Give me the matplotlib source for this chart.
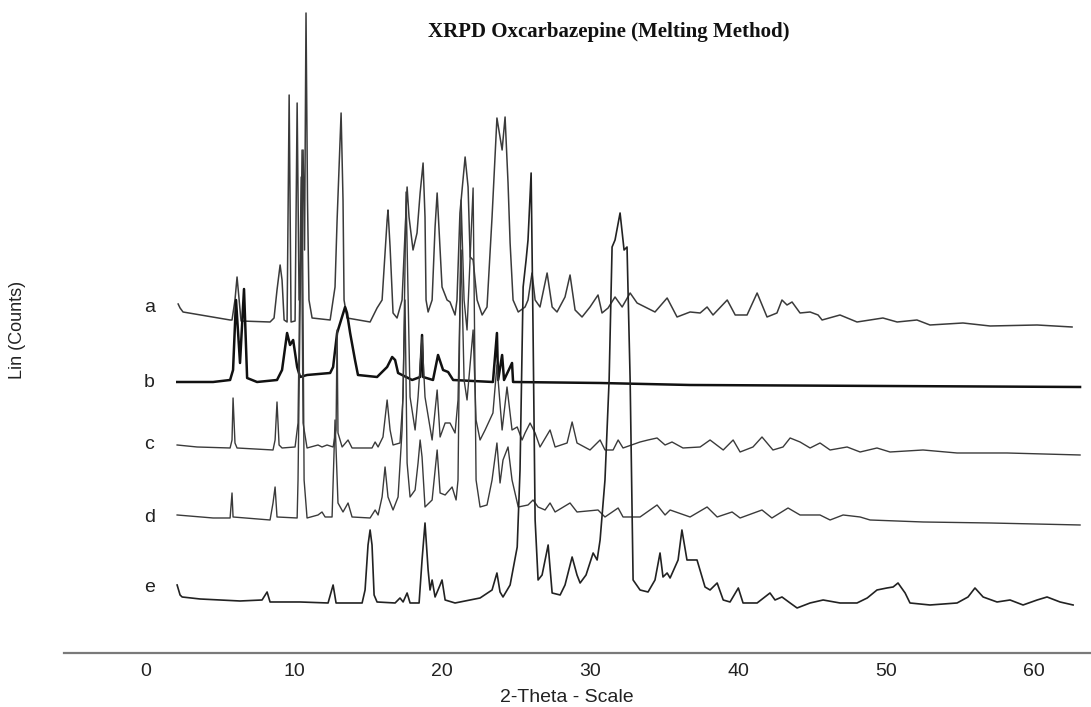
import matplotlib
matplotlib.use("Agg")
import matplotlib.pyplot as plt

# XRPD patterns (2-theta, counts), stacked as in the original figure
a_theta = [2.16, 2.29, 2.49, 5.67, 5.80, 6.0, 6.14, 6.28, 6.41, 8.37, 8.64, 8.84, 9.05, 9.18, 9.32,
           9.52, 9.66, 9.79, 10.06, 10.2, 10.33, 10.47, 10.6, 10.7, 10.8, 10.9, 11.0, 11.21, 12.43,
           12.76, 12.9, 13.17, 13.3, 13.37, 13.57, 15.13, 15.6, 15.94, 16.28, 16.34, 16.48, 16.68,
           16.95, 17.29, 17.63, 17.76, 18.03, 18.3, 18.51, 18.71, 18.84, 18.91, 19.05, 19.32, 19.52,
           19.66, 19.79, 19.99, 20.33, 20.53, 20.87, 21.0, 21.2, 21.55, 21.75, 21.89, 22.09, 22.36,
           22.7, 23.03, 23.37, 23.7, 24.05, 24.25, 24.45, 24.59, 24.79, 25.14, 25.6, 25.8, 26.07,
           26.28, 26.61, 27.09, 27.43, 27.76, 28.3, 28.64, 28.98, 29.45, 29.99, 30.53, 30.8, 31.21,
           31.68, 32.16, 32.7, 33.17, 33.71, 34.38, 35.2, 35.87, 36.75, 37.43, 37.9, 38.3, 39.26,
           39.8, 40.6, 41.28, 41.95, 42.62, 42.96, 43.3, 43.64, 44.18, 44.86, 45.4, 45.67, 46.88,
           48.03, 49.78, 50.74, 52.08, 52.96, 55.19, 57.02, 60.2, 62.56]
a_counts = [349, 345, 341, 333, 333, 353, 376, 353, 332, 331, 335, 363, 388, 373, 333,
            331, 558, 331, 332, 550, 353, 403, 503, 403, 640, 453, 353, 335, 333,
            366, 433, 540, 453, 353, 335, 331, 345, 353, 433, 443, 406, 340,
            335, 353, 466, 436, 403, 420, 460, 490, 436, 353, 341, 353, 426,
            460, 423, 366, 353, 351, 338, 353, 440, 496, 466, 396, 393, 353,
            338, 346, 436, 535, 503, 536, 470, 410, 353, 341, 346, 353, 380,
            353, 346, 380, 346, 341, 356, 378, 343, 336, 346, 358, 340, 345,
            356, 346, 360, 350, 346, 341, 355, 336, 341, 340, 346, 338, 353,
            338, 338, 360, 336, 340, 353, 348, 351, 340, 341, 338, 333, 338,
            331, 335, 331, 333, 328, 330, 327, 328, 326]

b_theta = [2.1, 4.52, 5.67, 5.87, 6.07, 6.34, 6.61, 6.82, 7.49, 8.84, 9.18, 9.52, 9.72, 9.93,
           10.2, 10.4, 10.87, 12.43, 12.63, 12.9, 13.44, 13.57, 13.78, 14.11, 14.31, 15.6, 16.28,
           16.62, 16.82, 17.02, 17.97, 18.51, 18.64, 18.71, 19.38, 19.72, 20.06, 20.4, 20.74,
           23.43, 23.7, 23.78, 24.05, 24.18, 24.72, 24.79, 30.67, 36.75, 63.1]
b_counts = [271, 271, 273, 283, 353, 290, 364, 275, 271, 273, 283, 320, 308, 313,
            286, 276, 278, 280, 286, 320, 346, 340, 320, 293, 278, 276, 286,
            296, 293, 280, 273, 276, 318, 276, 273, 298, 283, 281, 273,
            271, 320, 273, 298, 273, 290, 271, 270, 268, 266]

c_theta = [2.09, 3.44, 5.67, 5.80, 5.87, 6.0, 6.14, 8.57, 8.71, 8.84, 8.98, 9.18, 10.06, 10.26,
           10.47, 10.6, 10.87, 11.61, 11.88, 12.22, 12.63, 12.83, 12.9, 12.96, 13.24, 13.64, 13.91,
           15.26, 15.47, 15.67, 16.0, 16.28, 16.48, 16.68, 17.15, 17.36, 17.56, 17.83, 18.17,
           18.37, 18.64, 18.84, 19.32, 19.66, 19.86, 20.2, 20.53, 20.87, 21.07, 21.28, 21.48,
           21.68, 22.09, 22.29, 22.56, 22.9, 23.43, 23.7, 24.05, 24.38, 24.72, 25.07, 25.4, 25.6,
           25.94, 26.28, 26.61, 27.29, 27.63, 28.44, 28.78, 29.11, 29.99, 30.67, 31.0, 31.55,
           31.89, 32.22, 33.37, 33.91, 34.52, 35.06, 35.53, 36.27, 37.43, 38.1, 38.99, 39.66,
           40.13, 41.0, 41.61, 42.35, 43.03, 43.51, 44.18, 44.86, 45.53, 46.21, 47.36, 48.24,
           49.38, 50.26, 52.49, 54.79, 58.17, 63.1]
c_counts = [208, 206, 205, 213, 255, 210, 205, 203, 213, 251, 208, 205, 206, 230,
            476, 230, 205, 208, 206, 208, 206, 223, 323, 220, 206, 213, 205,
            205, 211, 206, 216, 253, 223, 208, 210, 256, 461, 256, 223,
            256, 316, 256, 213, 263, 216, 230, 230, 220, 253, 403, 273,
            253, 323, 233, 213, 223, 240, 288, 223, 266, 223, 226, 213, 220,
            230, 220, 206, 223, 206, 210, 231, 210, 203, 213, 203, 203,
            213, 205, 211, 213, 215, 208, 211, 205, 206, 213, 203, 213,
            201, 206, 216, 203, 206, 215, 211, 205, 210, 203, 206, 201,
            205, 201, 203, 200, 200, 198]

d_theta = [2.09, 4.52, 5.67, 5.80, 5.87, 8.37, 8.57, 8.71, 8.84, 10.2, 10.26, 10.53, 10.67, 10.87,
           11.61, 11.88, 12.09, 12.56, 12.76, 12.96, 13.3, 13.64, 13.91, 15.13, 15.47, 15.67,
           15.94, 16.14, 16.34, 16.68, 17.02, 17.29, 17.49, 17.63, 17.83, 18.17, 18.37, 18.51,
           18.64, 18.84, 19.32, 19.66, 19.86, 20.2, 20.67, 20.94, 21.07, 21.28, 21.48, 21.68,
           22.09, 22.29, 22.56, 23.03, 23.37, 23.7, 23.91, 24.11, 24.45, 24.72, 25.14, 25.8,
           26.14, 26.48, 26.95, 27.29, 27.63, 28.64, 29.11, 30.53, 31.0, 31.89, 32.22, 33.37,
           34.52, 35.06, 35.4, 36.75, 37.9, 38.58, 39.59, 40.13, 41.61, 42.28, 43.37, 44.18,
           45.53, 46.21, 47.09, 48.24, 48.91, 52.49, 57.02, 63.1]
d_counts = [138, 135, 135, 160, 136, 133, 150, 166, 136, 135, 173, 503, 173, 135,
            138, 141, 136, 136, 233, 150, 141, 150, 136, 135, 143, 138,
            156, 186, 156, 143, 156, 223, 353, 190, 156, 163, 190, 213,
            196, 146, 153, 203, 160, 158, 166, 153, 173, 453, 353, 323,
            465, 173, 146, 148, 173, 210, 170, 193, 206, 173, 146, 148,
            153, 146, 143, 150, 141, 150, 141, 143, 136, 145, 136, 136,
            148, 138, 143, 136, 146, 136, 141, 135, 143, 135, 145, 138,
            138, 133, 138, 136, 133, 131, 130, 128]

e_theta = [2.09, 2.29, 2.43, 3.64, 6.34, 7.83, 8.17, 8.37, 10.4, 12.29, 12.63, 12.83, 14.59, 14.79,
           14.99, 15.13, 15.26, 15.4, 15.6, 16.82, 17.15, 17.36, 17.63, 17.83, 18.44, 18.64, 18.84,
           19.05, 19.18, 19.32, 19.52, 19.86, 19.99, 20.2, 20.87, 22.56, 23.37, 23.7, 23.91, 24.11,
           24.59, 25.07, 25.26, 25.47, 25.67, 25.8, 26.01, 26.14, 26.28, 26.48, 26.75, 27.16,
           27.43, 27.97, 28.3, 28.78, 29.11, 29.32, 29.72, 30.2, 30.47, 30.67, 31.0, 31.28, 31.48,
           31.68, 32.02, 32.29, 32.49, 32.7, 32.9, 33.37, 33.91, 34.38, 34.72, 34.92, 35.2, 35.4,
           35.94, 36.2, 36.54, 36.75, 37.22, 37.76, 38.1, 38.58, 38.99, 39.45, 40.01, 40.33,
           41.28, 42.15, 42.49, 42.96, 43.51, 43.98, 44.86, 45.74, 46.88, 48.03, 48.72, 49.38,
           50.05, 50.47, 50.8, 51.28, 51.61, 52.96, 54.79, 55.53, 56.0, 56.55, 57.49, 58.37,
           59.25, 60.2, 60.87, 61.75, 62.63]
e_counts = [68, 58, 56, 54, 52, 53, 61, 51, 51, 50, 68, 50, 50, 63,
            108, 123, 108, 58, 51, 50, 55, 51, 60, 50, 50, 93, 130,
            83, 63, 73, 56, 68, 73, 53, 50, 55, 63, 80, 61, 56,
            68, 106, 183, 366, 393, 413, 480, 323, 133, 73, 78, 108,
            60, 58, 68, 96, 78, 70, 78, 100, 93, 113, 173, 273, 406,
            413, 440, 403, 406, 273, 73, 63, 61, 73, 100, 76, 80, 75,
            93, 123, 93, 93, 93, 66, 63, 70, 53, 51, 65, 50,
            50, 60, 53, 56, 50, 45, 50, 53, 50, 50, 55, 63,
            65, 66, 70, 60, 50, 48, 50, 56, 65, 56, 51, 53,
            48, 53, 56, 51, 48]

trace_labels = ["a", "b", "c", "d", "e"]
label_levels = [345, 270, 208, 135, 65]
x_ticks = [0, 10, 20, 30, 40, 50, 60]

plt.rcParams["font.family"] = ["Liberation Sans", "DejaVu Sans"]

fig = plt.figure(figsize=(10.91, 7.07), dpi=100)
ax = fig.add_axes([0.0587, 0.0764, 0.9413, 0.9236])

series = [(a_theta, a_counts, "#3a3a3a", 1.1),
          (b_theta, b_counts, "#111111", 1.8),
          (c_theta, c_counts, "#3a3a3a", 1.0),
          (d_theta, d_counts, "#3a3a3a", 1.0),
          (e_theta, e_counts, "#222222", 1.2)]
for xs, ys, col, lw in series:
    ax.plot(xs, ys, color=col, linewidth=lw)

for lab, lvl in zip(trace_labels, label_levels):
    ax.text(0.2, lvl, lab, fontsize=14, ha="center", va="center", color="#222222")

ax.set_xlim(-5.55, 63.84)
ax.set_ylim(0, 653)
ax.set_xticks(x_ticks)
ax.set_yticks([])
ax.tick_params(axis="x", length=0, pad=7, labelsize=14, labelcolor="#222222")
for side in ["top", "right", "left"]:
    ax.spines[side].set_visible(False)
ax.spines["bottom"].set_color("#7a7a7a")
ax.spines["bottom"].set_linewidth(1.6)
ax.patch.set_alpha(0)

fig.text(567 / 1091, 1 - 697 / 707, "2-Theta - Scale", fontsize=14, ha="center", va="center",
         color="#222222")
fig.text(18 / 1091, 1 - 330 / 707, "Lin (Counts)", fontsize=13, rotation=90, ha="center",
         va="center", color="#222222")
fig.text(609 / 1091, 1 - 32 / 707, "XRPD Oxcarbazepine (Melting Method)", fontsize=15,
         fontweight="bold", family="Liberation Serif", ha="center", va="center", color="#111111")

fig.savefig("out.png", dpi=100)
